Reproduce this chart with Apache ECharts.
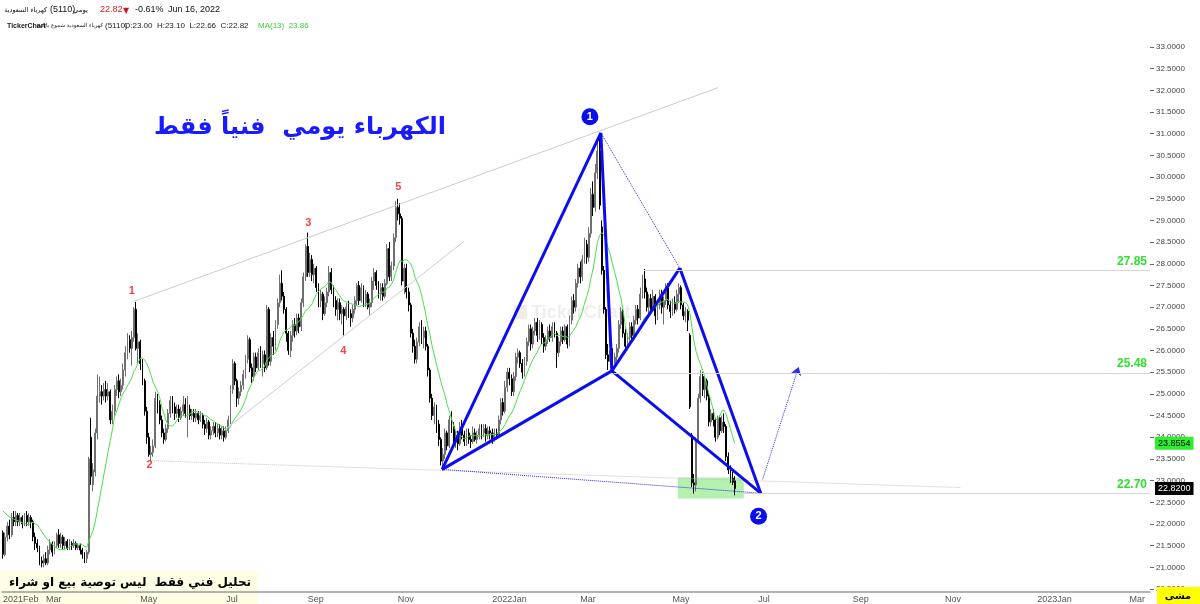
<!DOCTYPE html>
<html><head><meta charset="utf-8">
<script src="https://cdn.jsdelivr.net/npm/echarts/dist/echarts.min.js"></script>
<style>html,body{margin:0;padding:0;background:#fff}#c{width:1200px;height:604px}</style>
</head><body><div id="c"></div><script>
// ---------- categories (trading days, Sun-Thu) ----------
const startDate = '2021-02-01', endDate = '2023-03-14';
const holidays = ['2021-05-12','2021-05-13','2021-05-16','2021-05-17','2021-07-15','2021-07-18','2021-07-19','2021-07-20','2021-07-21','2021-07-22','2021-09-23','2022-02-22','2022-05-01','2022-05-02','2022-05-03','2022-05-04','2022-05-05'];
const monthNames = ['Jan','Feb','Mar','Apr','May','Jun','Jul','Aug','Sep','Oct','Nov','Dec'];
const categories = [];
for (let d = new Date(startDate + 'T00:00:00Z'); d <= new Date(endDate + 'T00:00:00Z'); d.setUTCDate(d.getUTCDate() + 1)) {
  const wd = d.getUTCDay(); if (wd === 5 || wd === 6) continue;
  const s = d.toISOString().slice(0, 10); if (holidays.indexOf(s) >= 0) continue;
  categories.push(s);
}
const N = categories.length;
// price-axis tick values
const yTicks = [20.5,21.0,21.5,22.0,22.5,23.0,23.5,24.0,24.5,25.0,25.5,26.0,26.5,27.0,27.5,28.0,28.5,29.0,29.5,30.0,30.5,31.0,31.5,32.0,32.5,33.0];

// ---------- daily candles [open, close, low, high] ----------
const candles = [
[21.80,21.30,21.20,21.85],[21.30,21.70,21.25,21.80],[21.70,21.95,21.60,22.05],[21.95,21.75,21.65,22.10],[21.75,22.15,21.70,22.25],
[22.15,22.05,21.95,22.30],[22.05,22.20,21.95,22.30],[22.20,22.05,21.95,22.25],[22.05,22.15,21.95,22.25],[22.15,22.00,21.90,22.20],
[22.00,22.20,21.95,22.25],[22.20,22.05,21.95,22.30],[22.05,22.15,21.95,22.25],[22.15,22.05,21.90,22.20],[22.05,21.70,21.60,22.10],
[21.70,21.55,21.40,21.80],[21.55,21.45,21.35,21.65],[21.45,21.15,21.05,21.50],[21.15,21.10,21.00,21.25],[21.10,21.20,21.00,21.30],
[21.20,21.10,21.05,21.35],[21.10,21.40,21.05,21.50],[21.40,21.55,21.30,21.65],[21.55,21.35,21.25,21.60],[21.35,21.50,21.30,21.60],
[21.50,21.75,21.45,21.80],[21.75,21.55,21.45,21.88],[21.55,21.70,21.45,21.80],[21.70,21.50,21.40,21.75],[21.50,21.60,21.40,21.70],
[21.60,21.45,21.40,21.65],[21.45,21.55,21.40,21.65],[21.55,21.50,21.40,21.60],[21.50,21.55,21.45,21.65],[21.55,21.45,21.40,21.60],
[21.45,21.50,21.40,21.55],[21.50,21.40,21.30,21.55],[21.40,21.30,21.20,21.45],[21.30,21.20,21.10,21.35],[21.20,21.35,21.10,21.40],
[21.35,23.50,21.30,23.55],[24.00,23.10,22.90,24.45],[22.90,23.25,22.75,23.40],[23.20,24.10,23.10,24.20],[24.10,24.95,23.95,25.45],
[24.95,25.05,24.80,25.40],[25.05,24.95,24.75,25.20],[24.95,25.10,24.85,25.25],[25.10,24.95,24.80,25.30],[24.95,25.05,24.85,25.25],
[25.05,24.40,24.30,25.10],[24.40,24.60,24.30,24.75],[24.60,25.10,24.50,25.20],[25.10,25.30,24.95,25.40],[25.30,25.05,24.90,25.45],
[25.05,25.20,24.95,25.35],[25.20,25.55,25.10,25.70],[25.55,25.95,25.40,26.10],[25.95,26.25,25.80,26.40],[26.25,26.05,25.95,26.35],
[26.05,26.30,25.65,26.45],[26.30,26.95,26.20,27.00],[26.95,26.05,26.00,27.12],[26.05,26.20,25.70,26.40],[26.20,25.70,25.55,26.25],
[25.70,25.30,25.20,25.80],[25.30,24.60,24.50,25.35],[24.60,24.00,23.85,24.70],[24.00,23.60,23.55,24.10],[23.60,23.65,23.45,23.80],
[23.65,23.80,23.55,23.95],[23.80,24.90,23.75,25.05],[24.90,24.75,24.55,25.00],[24.75,24.40,24.30,24.85],[24.40,24.10,24.00,24.50],
[24.10,23.95,23.85,24.20],[23.95,24.20,23.90,24.30],[24.20,24.55,24.10,24.65],[24.55,24.85,24.45,24.95],[24.85,24.70,24.55,24.95],
[24.70,24.55,24.40,24.80],[24.55,24.65,24.45,24.75],[24.65,24.45,24.35,24.75],[24.45,24.60,24.40,24.70],[24.60,24.75,24.50,24.95],
[24.75,24.55,24.45,24.90],[24.55,24.65,24.00,24.95],[24.65,24.50,24.40,24.75],[24.50,24.55,24.40,24.65],[24.55,24.45,24.35,24.65],
[24.45,24.55,24.35,24.65],[24.55,24.40,24.30,24.60],[24.40,24.50,24.35,24.60],[24.50,24.30,24.20,24.55],[24.30,24.20,24.05,24.40],
[24.20,24.35,24.10,24.45],[24.35,24.05,23.95,24.40],[24.05,24.15,23.95,24.25],[24.15,24.25,24.05,24.35],[24.25,24.10,24.00,24.35],
[24.10,24.20,24.00,24.30],[24.20,24.05,23.95,24.30],[24.05,24.15,23.95,24.25],[24.15,24.00,23.90,24.25],[24.00,24.15,23.95,24.25],
[24.15,24.40,24.10,24.50],[24.40,25.10,24.30,25.20],[25.10,25.70,25.00,25.80],[25.70,25.30,25.20,25.75],[25.30,24.90,24.70,25.35],
[24.90,25.05,24.75,25.15],[25.05,25.20,24.95,25.30],[25.20,25.45,25.10,25.55],[25.45,25.80,25.35,25.90],[25.80,26.25,25.70,26.35],
[26.25,25.60,25.50,26.30],[25.60,25.40,25.25,25.70],[25.40,25.85,25.30,25.95],[25.85,25.60,25.50,25.95],[25.60,25.95,25.55,26.05],
[25.95,25.70,25.60,26.10],[25.70,25.90,25.40,26.00],[25.90,25.60,25.50,26.00],[25.60,26.95,25.55,27.05],[26.95,25.75,25.65,27.00],
[25.75,26.30,25.65,26.40],[26.30,26.10,25.90,26.45],[26.10,26.60,26.00,26.70],[26.60,27.10,26.50,27.20],[27.10,27.55,27.00,27.75],
[27.55,27.25,27.15,27.85],[27.25,26.95,26.85,27.35],[26.95,26.40,26.20,27.00],[26.40,26.00,25.90,26.45],[26.00,26.35,25.85,26.45],
[26.35,26.60,26.20,26.70],[26.60,26.45,26.30,26.75],[26.45,26.75,26.35,26.85],[26.75,26.55,26.40,26.85],[26.55,27.10,26.45,27.20],
[27.10,27.70,27.00,27.80],[27.70,28.40,27.60,28.45],[28.40,27.80,27.70,28.72],[27.80,28.10,27.70,28.25],[28.10,27.75,27.60,28.20],
[27.75,27.90,27.55,28.00],[27.90,27.45,27.35,27.95],[27.45,27.15,27.00,27.55],[27.15,27.30,27.00,27.40],[27.30,26.85,26.70,27.35],
[26.85,27.10,26.80,27.25],[27.10,27.35,27.00,27.45],[27.35,27.80,27.25,27.95],[27.80,27.40,27.30,27.90],[27.40,27.15,27.00,27.50],
[27.15,26.95,26.80,27.25],[26.95,27.10,26.70,27.20],[27.10,26.85,26.70,27.20],[26.85,26.95,26.60,27.05],[26.95,26.80,26.35,27.00],
[26.80,27.00,26.70,27.10],[27.00,26.85,26.75,27.15],[26.85,26.75,26.55,26.95],[26.75,26.95,26.65,27.05],[26.95,27.15,26.85,27.25],
[27.15,27.50,27.05,27.55],[27.50,27.15,27.05,27.60],[27.15,27.45,27.10,27.55],[27.45,27.10,27.00,27.50],[27.10,27.30,27.00,27.40],
[27.30,27.00,26.95,27.35],[27.00,27.10,26.80,27.20],[27.10,27.60,27.00,27.70],[27.60,27.80,27.40,27.90],[27.80,27.50,27.40,27.85],
[27.50,27.30,27.20,27.60],[27.30,27.45,27.15,27.55],[27.45,27.25,27.15,27.55],[27.25,27.55,27.20,27.65],[27.55,28.35,27.50,28.45],
[28.35,27.70,27.60,28.50],[27.70,27.95,27.60,28.05],[27.95,28.60,27.85,28.70],[28.60,29.30,28.50,29.45],[29.30,29.15,29.00,29.50],
[29.15,29.05,28.90,29.40],[29.05,27.60,27.50,29.10],[27.60,27.90,27.30,28.00],[27.90,27.35,27.20,28.00],[27.35,27.05,26.90,27.45],
[27.05,26.40,26.30,27.10],[26.40,26.10,25.95,26.50],[26.10,25.80,25.70,26.25],[25.80,26.20,25.70,26.30],[26.20,26.55,26.10,26.65],
[26.55,26.30,26.15,26.70],[26.30,26.45,26.05,26.55],[26.45,26.10,26.00,26.55],[26.10,25.55,25.40,26.15],[25.55,24.90,24.80,25.60],
[24.90,24.50,24.40,25.00],[24.50,24.70,24.30,24.80],[24.70,24.30,24.10,24.75],[24.30,23.95,23.80,24.40],[23.95,23.45,23.35,24.00],
[23.45,23.60,23.22,23.75],[23.60,24.10,23.50,24.20],[24.10,23.80,23.70,24.15],[23.80,24.40,23.75,24.50],[24.40,24.25,24.10,24.60],
[24.25,23.90,23.80,24.35],[23.90,24.05,23.75,24.15],[24.05,23.85,23.70,24.15],[23.85,24.25,23.80,24.35],[24.25,24.05,23.95,24.40],
[24.05,23.90,23.80,24.15],[23.90,24.10,23.80,24.20],[24.10,23.95,23.85,24.20],[23.95,23.90,23.75,24.05],[23.90,24.10,23.85,24.25],
[24.10,23.95,23.90,24.20],[23.95,24.05,23.85,24.15],[24.05,24.20,23.95,24.30],[24.20,24.10,23.95,24.30],[24.10,24.20,24.00,24.30],
[24.20,24.05,23.90,24.30],[24.05,24.15,23.95,24.25],[24.15,24.10,23.95,24.25],[24.10,23.95,23.85,24.20],[23.95,24.10,23.90,24.20],
[24.10,24.05,23.95,24.20],[24.05,24.40,24.00,24.50],[24.40,24.80,24.30,24.90],[24.80,24.60,24.50,24.90],[24.60,25.15,24.55,25.30],
[25.15,25.50,25.05,25.60],[25.50,25.35,25.20,25.60],[25.35,25.05,24.95,25.45],[25.05,25.40,24.95,25.50],[25.40,25.85,25.30,25.95],
[25.85,25.95,25.70,26.05],[25.95,25.70,25.60,26.00],[25.70,25.50,25.35,25.80],[25.50,25.75,25.40,25.85],[25.75,26.20,25.65,26.30],
[26.20,26.50,26.10,26.60],[26.50,26.15,26.00,26.60],[26.15,26.45,26.05,26.55],[26.45,26.65,26.35,26.75],[26.65,26.35,26.20,26.75],
[26.35,26.60,26.25,26.70],[26.60,26.30,26.15,26.65],[26.30,26.10,25.95,26.40],[26.10,26.25,26.00,26.35],[26.25,26.45,26.15,26.55],
[26.45,26.30,26.20,26.60],[26.30,26.55,26.20,26.65],[26.55,26.40,26.30,26.65],[26.40,25.95,25.60,26.45],[25.95,26.20,25.85,26.30],
[26.20,26.45,26.10,26.55],[26.45,26.25,26.15,26.55],[26.25,26.55,26.20,26.60],[26.55,26.15,26.05,26.60],[26.15,26.70,26.10,26.80],
[26.70,27.15,26.60,27.25],[27.15,27.00,26.85,27.30],[27.00,27.55,26.90,27.65],[27.55,27.90,27.45,28.00],[27.90,27.70,27.55,28.05],
[27.70,28.10,27.60,28.20],[28.10,28.45,28.00,28.60],[28.45,28.15,28.00,28.55],[28.15,28.70,28.05,28.85],[28.70,29.60,28.60,29.75],
[29.60,29.30,29.10,29.90],[29.30,30.10,29.20,30.30],[30.10,30.60,29.95,30.80],[30.60,29.35,29.25,31.00],[28.85,27.85,27.75,29.00],
[27.85,26.95,26.85,27.95],[26.95,25.90,25.80,27.00],[25.90,25.75,25.55,26.15],[25.75,26.00,25.60,26.10],[26.00,25.70,25.52,26.05],
[25.70,25.85,25.60,25.95],[25.85,26.05,25.75,26.15],[26.05,26.60,25.95,26.70],[26.60,26.90,26.50,27.00],[26.90,26.40,26.30,26.95],
[26.40,26.10,25.95,26.50],[26.10,26.30,26.00,26.40],[26.30,26.55,26.20,26.65],[26.55,26.35,26.20,26.65],[26.35,26.70,26.30,26.80],
[26.70,26.95,26.60,27.05],[26.95,26.75,26.60,27.05],[26.75,27.30,26.70,27.45],[27.30,27.65,27.20,27.75],[27.65,27.35,27.20,27.88],
[27.35,27.00,26.90,27.45],[27.00,27.20,26.85,27.30],[27.20,26.95,26.85,27.30],[26.95,27.25,26.90,27.40],[27.25,26.80,26.60,27.30],
[26.80,27.05,26.70,27.15],[27.05,27.30,26.95,27.40],[27.30,27.00,26.85,27.40],[27.00,27.15,26.60,27.25],[27.15,27.45,27.05,27.55],
[27.45,27.05,26.95,27.55],[27.05,26.90,26.75,27.15],[26.90,27.10,26.80,27.20],[27.10,26.95,26.85,27.25],[26.95,27.30,26.90,27.40],
[27.30,27.45,27.10,27.55],[27.45,27.05,26.95,27.50],[27.05,26.80,26.70,27.10],[26.80,26.90,26.65,27.00],[26.90,26.70,26.45,26.95],
[26.35,24.70,24.65,26.40],[24.05,22.95,22.85,24.10],[22.95,22.90,22.70,23.15],[22.90,23.95,22.75,24.00],[23.95,24.90,23.85,25.00],
[24.90,25.40,24.80,25.55],[25.40,25.10,24.95,25.50],[25.10,25.30,24.90,25.40],[25.30,24.95,24.85,25.35],[24.95,24.35,24.25,25.05],
[24.35,24.55,24.25,24.65],[24.55,24.40,24.25,24.65],[24.40,24.00,23.90,24.45],[24.00,24.45,23.95,24.50],[24.45,24.15,24.05,24.50],
[24.15,24.35,24.10,24.50],[24.35,24.25,24.10,24.55],[24.25,23.55,23.45,24.30],[23.55,23.25,23.15,23.65],[23.25,23.05,22.95,23.35],
[23.05,22.96,22.90,23.20],[23.00,22.82,22.66,23.10]
];
// closes of the 12 sessions before the window (estimated from where MA(13) starts)
const priorCloses = [22.45,22.40,22.50,22.35,22.40,22.45,22.30,22.35,22.40,22.30,22.35,22.40];

// ---------- annotations (x in session index, y in price) ----------
const harmonicIdx = [204.66, 278.6, 283.75, 315.4, 353.1];   // X A B C D
const harmonicVal = [23.26, 31.02, 25.53, 27.90, 22.71];
const arrowIdx = [354.0, 370.75];
const arrowVal = [23.03, 25.62];
const channelUpIdx = [61.4, 333.1], channelUpVal = [27.14, 32.06];
const channelLowIdx = [102.8, 214.9], channelLowVal = [24.15, 28.52];
const baseLineIdx = [68.4, 446.1], baseLineVal = [23.46, 22.84];
const levels = [27.85, 25.48, 22.70];
const levelStart = [298.6, 284.6, 345.2];
const zoneIdx = [314.5, 345.2], zoneVal = [23.07, 22.59];
const waveIdx = [60, 68.3, 142.3, 158.6, 184.2];
const waveVal = [27.37, 23.35, 28.93, 25.99, 29.78];
const waveText = ['1','2','3','4','5'];
const circleIdx = [273.5, 352.1], circleVal = [31.39, 22.18], circleText = ['1','2'];
const maTag = 23.8554, closeTag = 22.82;

// ---------- derived ----------
const closes = candles.map(c => c[1]);
const allCloses = priorCloses.concat(closes);
const ma13 = closes.map((_, i) => { let s = 0; for (let k = i; k < i + 13; k++) s += allCloses[k]; return +(s / 13).toFixed(4); });
const monthStart = categories.map((c, i) => i === 0 || c.slice(0, 7) !== categories[i - 1].slice(0, 7));
function showTick(i) { if (!monthStart[i]) return false; const m = +categories[i].slice(5, 7); return i === 0 || m % 2 === 1; }
function tickText(v, i) { const m = +v.slice(5, 7); if (i === 0 || m === 1) return v.slice(0, 4) + monthNames[m - 1]; return monthNames[m - 1]; }
function isTick(v) { return yTicks.some(t => Math.abs(t - v) < 1e-6); }

const BLUE = '#0c0cf0';
const F = '"Liberation Sans","DejaVu Sans",sans-serif';
const AF = '"DejaVu Sans",sans-serif';
function seg(a, b, style) { return { coords: [[harmonicIdx[a], harmonicVal[a]], [harmonicIdx[b], harmonicVal[b]]], lineStyle: style }; }
const thick = { color: BLUE, width: 3, type: 'solid', opacity: 1 };
const thin = { color: '#2a2af0', width: 1, type: 'dotted', opacity: 1 };

const chart = echarts.init(document.getElementById('c'), null, { renderer: 'canvas' });
const option = {
  animation: false,
  backgroundColor: '#ffffff',
  grid: { left: 0, right: 50, top: 40, bottom: 0 },
  xAxis: [
    { type: 'category', data: categories, boundaryGap: true, offset: -10,
      axisLine: { onZero: false, lineStyle: { color: '#9a9a9a', width: 1.5 } },
      axisTick: { inside: true, length: 3, interval: (i) => showTick(i), lineStyle: { color: '#9a9a9a' } },
      axisLabel: { interval: (i) => showTick(i), formatter: tickText, align: 'left', margin: 3, fontSize: 9, color: '#555', fontFamily: F },
      splitLine: { show: false } },
    { type: 'value', min: -0.5, max: N - 0.5, show: false, axisLine: { onZero: false } }
  ],
  yAxis: { type: 'value', position: 'right', min: 20.201, max: 33.16, interval: 0.5,
    axisLine: { show: false, onZero: false },
    axisTick: { show: true, length: 4, customValues: yTicks, lineStyle: { color: '#666' } },
    axisLabel: { customValues: yTicks, formatter: v => isTick(v) ? v.toFixed(4) : '', fontSize: 8, color: '#444', margin: 6, fontFamily: F },
    splitLine: { show: false } },
  series: [
    { type: 'line', xAxisIndex: 1, yAxisIndex: 0, data: [], z: 1, silent: true,
      markArea: { silent: true, itemStyle: { color: 'rgba(130,230,120,0.6)' },
        data: [[{ coord: [zoneIdx[0], zoneVal[0]] }, { coord: [zoneIdx[1], zoneVal[1]] }]] } },
    { type: 'candlestick', xAxisIndex: 0, yAxisIndex: 0, data: candles, barWidth: 1.4, z: 2,
      itemStyle: { color: '#9c9c9c', color0: '#000000', borderColor: '#6f6f6f', borderColor0: '#000000', borderWidth: 1 } },
    { type: 'line', xAxisIndex: 0, yAxisIndex: 0, data: ma13, symbol: 'none', z: 3, silent: true,
      lineStyle: { color: '#4cde4c', width: 1 },
      markLine: { silent: true, symbol: ['none', 'none'], lineStyle: { width: 0, color: 'rgba(0,0,0,0)' },
        label: { show: true, position: 'end', formatter: '{b}', fontSize: 9, fontFamily: F, padding: [2, 3, 2, 3], distance: 5 },
        data: [
          { yAxis: maTag, name: maTag.toFixed(4), label: { backgroundColor: '#2cee2c', color: '#000' } },
          { yAxis: closeTag, name: closeTag.toFixed(4), label: { backgroundColor: '#000', color: '#fff' } }
        ] } },
    { type: 'lines', coordinateSystem: 'cartesian2d', xAxisIndex: 1, yAxisIndex: 0, polyline: false, z: 4, silent: true,
      lineStyle: { opacity: 1 },
      data: [
        { coords: [[channelUpIdx[0], channelUpVal[0]], [channelUpIdx[1], channelUpVal[1]]], lineStyle: { color: '#cccccc', width: 1, type: 'solid', opacity: 1 } },
        { coords: [[channelLowIdx[0], channelLowVal[0]], [channelLowIdx[1], channelLowVal[1]]], lineStyle: { color: '#cfcfcf', width: 1, type: 'solid', opacity: 1 } },
        { coords: [[baseLineIdx[0], baseLineVal[0]], [baseLineIdx[1], baseLineVal[1]]], lineStyle: { color: '#c4c4c4', width: 1, type: 'dotted', opacity: 1 } },
        seg(1, 3, thin), seg(0, 4, thin),
        seg(0, 1, thick), seg(1, 2, thick), seg(0, 2, thick), seg(2, 3, thick), seg(3, 4, thick), seg(2, 4, thick)
      ],
      markLine: { silent: true, symbol: ['none', 'none'], lineStyle: { color: '#d6d6d6', width: 1, type: 'solid', opacity: 1 },
        label: { show: true, position: 'insideEndTop', formatter: '{b}', color: '#2fe02f', fontWeight: 'bold', fontSize: 12, fontFamily: F, distance: 3 },
        data: levels.map((v, k) => [{ name: v.toFixed(2), coord: [levelStart[k], v] }, { coord: [N - 0.5, v] }]) } },
    { type: 'lines', coordinateSystem: 'cartesian2d', xAxisIndex: 1, yAxisIndex: 0, polyline: false, z: 4, silent: true,
      symbol: ['none', 'arrow'], symbolSize: 8,
      lineStyle: { color: '#2a2af0', width: 1, type: 'dotted', opacity: 1 },
      data: [{ coords: [[arrowIdx[0], arrowVal[0]], [arrowIdx[1], arrowVal[1]]] }] },
    { type: 'scatter', xAxisIndex: 1, yAxisIndex: 0, z: 5, silent: true, symbolSize: 0.1,
      itemStyle: { color: 'rgba(0,0,0,0)' },
      data: waveIdx.map((x, k) => [x, waveVal[k]]),
      label: { show: true, position: 'inside', formatter: p => waveText[p.dataIndex], color: '#e81818', fontWeight: 'bold', fontSize: 11, fontFamily: F } },
    { type: 'scatter', xAxisIndex: 1, yAxisIndex: 0, z: 6, silent: true, symbolSize: 17,
      itemStyle: { color: BLUE, opacity: 1 },
      data: circleIdx.map((x, k) => [x, circleVal[k]]),
      label: { show: true, position: 'inside', formatter: p => circleText[p.dataIndex], color: '#fff', fontWeight: 'bold', fontSize: 11, fontFamily: F } }
  ],
  graphic: [
    { type: 'rect', x: 514, y: 305, z: -2, shape: { width: 13, height: 14, r: 2 }, style: { fill: '#f2ede2' } },
    { type: 'text', x: 581, y: 313, z: -2, style: { text: 'TickerChart', font: 'bold 18px ' + F, fill: '#eeeeee', textAlign: 'center', textVerticalAlign: 'middle' } },
    { type: 'rect', x: 0, y: 571, z: -1, shape: { width: 258, height: 33 }, style: { fill: '#fffde4' } },
    { type: 'text', x: 130, y: 583, z: 10, style: { text: 'تحليل فني فقط  ليس توصية بيع او شراء', font: 'bold 12px ' + AF, fill: '#000', textAlign: 'center', textVerticalAlign: 'middle' } },
    { type: 'text', x: 300, y: 128, z: 10, style: { text: 'الكهرباء يومي  فنياً فقط', font: 'bold 24px ' + AF, fill: '#1a1aff', textAlign: 'center', textVerticalAlign: 'middle' } },
    { type: 'rect', x: 1157, y: 587, z: 10, shape: { width: 43, height: 17 }, style: { fill: '#ffff00' } },
    { type: 'text', x: 1178, y: 596, z: 11, style: { text: 'مشى', font: 'bold 10px ' + AF, fill: '#000', textAlign: 'center', textVerticalAlign: 'middle' } },
    // header line 1
    { type: 'text', x: 47, y: 10, z: 10, style: { text: 'كهرباء السعودية', font: '6.5px ' + AF, fill: '#111', textAlign: 'right', textVerticalAlign: 'middle' } },
    { type: 'text', x: 50, y: 10, z: 10, style: { text: '(5110)', font: '9px ' + F, fill: '#111', textVerticalAlign: 'middle' } },
    { type: 'text', x: 88, y: 10, z: 10, style: { text: 'يومي', font: '7px ' + AF, fill: '#111', textAlign: 'right', textVerticalAlign: 'middle' } },
    { type: 'text', x: 100, y: 10, z: 10, style: { text: '22.82', font: '9px ' + F, fill: '#e02020', textVerticalAlign: 'middle' } },
    { type: 'text', x: 123, y: 11, z: 10, style: { text: '▼', font: '8px ' + AF, fill: '#d01818', textVerticalAlign: 'middle' } },
    { type: 'text', x: 135, y: 10, z: 10, style: { text: '-0.61%', font: '9px ' + F, fill: '#111', textVerticalAlign: 'middle' } },
    { type: 'text', x: 168, y: 10, z: 10, style: { text: 'Jun 16, 2022', font: '9px ' + F, fill: '#111', textVerticalAlign: 'middle' } },
    // header line 2
    { type: 'text', x: 7, y: 26, z: 10, style: { text: 'TickerChart', font: 'bold 7px ' + F, fill: '#222', textVerticalAlign: 'middle' } },
    { type: 'text', x: 103, y: 26, z: 10, style: { text: 'كهرباء السعودية شموع يابانية', font: '5.5px ' + AF, fill: '#222', textAlign: 'right', textVerticalAlign: 'middle' } },
    { type: 'text', x: 105, y: 26, z: 10, style: { text: '(5110)', font: '8px ' + F, fill: '#222', textVerticalAlign: 'middle' } },
    { type: 'text', x: 124, y: 26, z: 10, style: { text: 'O:23.00  H:23.10  L:22.66  C:22.82', font: '8px ' + F, fill: '#222', textVerticalAlign: 'middle' } },
    { type: 'text', x: 258, y: 26, z: 10, style: { text: 'MA(13)  23.86', font: '8px ' + F, fill: '#3ccc3c', textVerticalAlign: 'middle' } }
  ]
};
chart.setOption(option);
</script></body></html>
